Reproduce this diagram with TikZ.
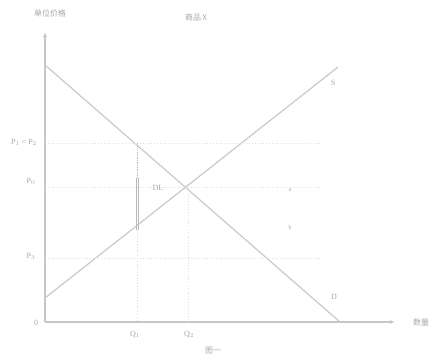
\documentclass[tikz,border=0pt]{standalone}
\usepackage{fontspec}
\setmainfont{Liberation Serif}
\newfontfamily\cjk{Noto Sans CJK SC}
\usetikzlibrary{arrows.meta}
\begin{document}
\begin{tikzpicture}[x=1pt,y=-1pt,
  axis/.style={draw=gray!45,line width=1.2pt},
  curve/.style={draw=gray!40,line width=1.3pt},
  grid/.style={draw=gray!25,line width=0.8pt,dotted},
  wedge/.style={draw=gray!55,line width=0.7pt},
  lbl/.style={text=gray!70,font=\fontsize{8}{9}\selectfont,inner sep=1pt},
  clbl/.style={text=gray!70,font=\cjk\fontsize{8}{9}\selectfont,inner sep=1pt}]
\useasboundingbox (0,0) rectangle (436,359);
% axes
\coordinate (O) at (45,322);
\coordinate (Ytop) at (45,32);
\coordinate (Xend) at (395,322);
\draw[axis,-{Latex[length=5pt,width=4pt]}] (O) -- (Ytop);
\draw[axis,-{Latex[length=5pt,width=4pt]}] (O) -- (Xend);
% curves
\coordinate (Dstart) at (45,65);
\coordinate (Dend) at (340,322);
\coordinate (Sstart) at (45,298);
\coordinate (Send) at (338,67);
\draw[curve] (Dstart) -- (Dend);
\draw[curve] (Sstart) -- (Send);
% key points
\coordinate (E) at (188,187);
\coordinate (A) at (137,143);
\coordinate (B) at (137,178);
\coordinate (C) at (137,230);
\coordinate (Q1) at (137,322);
\coordinate (Q2) at (188,322);
\coordinate (P12) at (45,143);
\coordinate (P0) at (45,187);
\coordinate (P3) at (45,258);
\coordinate (G1) at (320,143);
\coordinate (G2) at (320,187);
\coordinate (G3) at (320,258);
% grid lines
\draw[grid] (P12) -- (G1);
\draw[grid] (P0) -- (G2);
\draw[grid] (P3) -- (G3);
\draw[grid] (E) -- (Q2);
\draw[grid] (C) -- (Q1);
% tax wedge
\draw[wedge,densely dotted] (A) -- (B);
\draw[wedge] ([xshift=-1pt]B) -- ([xshift=-1pt]C);
\draw[wedge] ([xshift=1.2pt]B) -- ([xshift=1.2pt]C);
% labels
\node[clbl] (ylab) at (50,13) {单位价格};
\node[clbl] (title) at (196,17) {商品\,X};
\node[clbl] (xlab) at (421,322) {数量};
\node[clbl] (cap) at (213,351) {图一};
\node[lbl] (lS) at (333,83) {S};
\node[lbl] (lD) at (334,297) {D};
\node[lbl] (lDL) at (158,188) {DL};
\node[lbl] (lP12) at (24,142) {P$_1$ = P$_2$};
\node[lbl] (lP0) at (31,181) {P$_0$};
\node[lbl] (lP3) at (31,256) {P$_3$};
\node[lbl] (l0) at (36,323) {0};
\node[lbl] (lQ1) at (135,334) {Q$_1$};
\node[lbl] (lQ2) at (189,334) {Q$_2$};
\node[lbl,font=\fontsize{6}{7}\selectfont] (la) at (290,190) {a};
\node[lbl,font=\fontsize{6}{7}\selectfont] (lb) at (290,227) {b};
\end{tikzpicture}
\end{document}
